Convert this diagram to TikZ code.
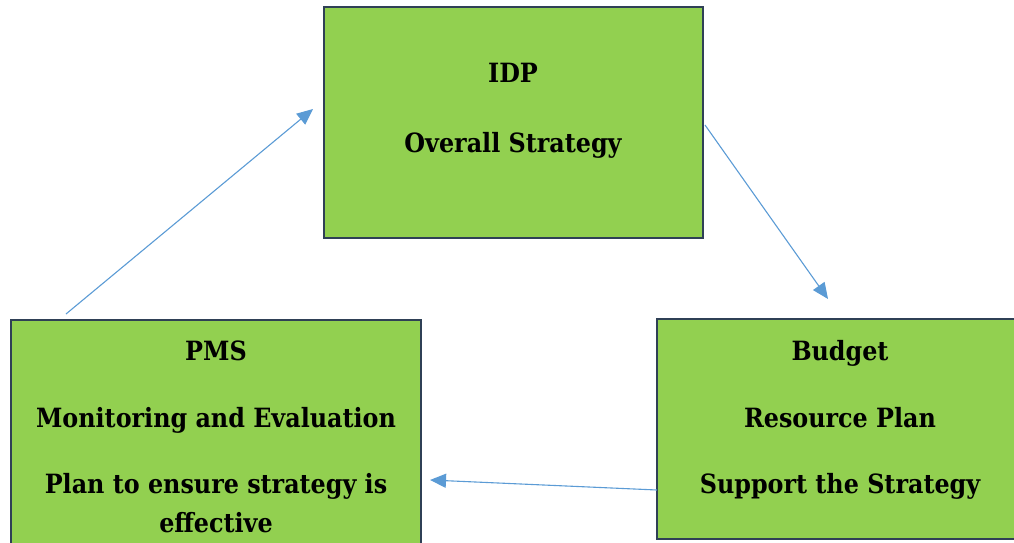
\documentclass[tikz,border=0pt]{standalone}
\usepackage{fontspec}
\setmainfont{DejaVu Serif Condensed}
\usetikzlibrary{arrows.meta}
\definecolor{boxgreen}{HTML}{92D050}
\definecolor{boxedge}{RGB}{47,64,86}
\definecolor{flowblue}{HTML}{5B9BD5}
\tikzset{
  stage/.style={draw=boxedge, line width=2.6pt, fill=boxgreen, rectangle,
    inner sep=0pt, outer sep=0pt},
  stagetext/.style={anchor=base, inner sep=0pt, font=\bfseries\fontsize{26.5}{30}\selectfont},
  flow/.style={draw=flowblue, line width=1.1pt,
    -{Triangle[length=16pt,width=14pt]}}
}
\begin{document}
\begin{tikzpicture}[x=1pt,y=1pt]
\useasboundingbox (0,0) rectangle (1014,542);

% Boxes
\node[stage, minimum width=379pt, minimum height=231pt] (idp) at (513.5,419.5) {};
\node[stage, minimum width=410pt, minimum height=250pt] (pms) at (216,97) {};
\node[stage, minimum width=380pt, minimum height=220pt] (budget) at (847,113) {};

% Texts
\node[stagetext] (idptitle) at (513,459) {IDP};
\node[stagetext] (idpsub) at (513,390) {Overall Strategy};
\node[stagetext] (pmstitle) at (216,182) {PMS};
\node[stagetext] (pmssub) at (216,115) {Monitoring and Evaluation};
\node[stagetext] (pmsplan) at (216,49) {Plan to ensure strategy is};
\node[stagetext] (pmsplanb) at (216,10) {effective};
\node[stagetext] (budgettitle) at (840,182) {Budget};
\node[stagetext] (budgetsub) at (840,115) {Resource Plan};
\node[stagetext] (budgetsupp) at (840,49) {Support the Strategy};

% Arrows
\draw[flow] ([shift={(55,6)}]pms.north west) -- ([shift={(-11,13.5)}]idp.west);
\draw[flow] ([shift={(2,-2.5)}]idp.east) -- ([shift={(171,20)}]budget.north west);
\draw[flow] ([yshift=49]budget.south west) -- ([shift={(9,-160)}]pms.north east);
\end{tikzpicture}
\end{document}
